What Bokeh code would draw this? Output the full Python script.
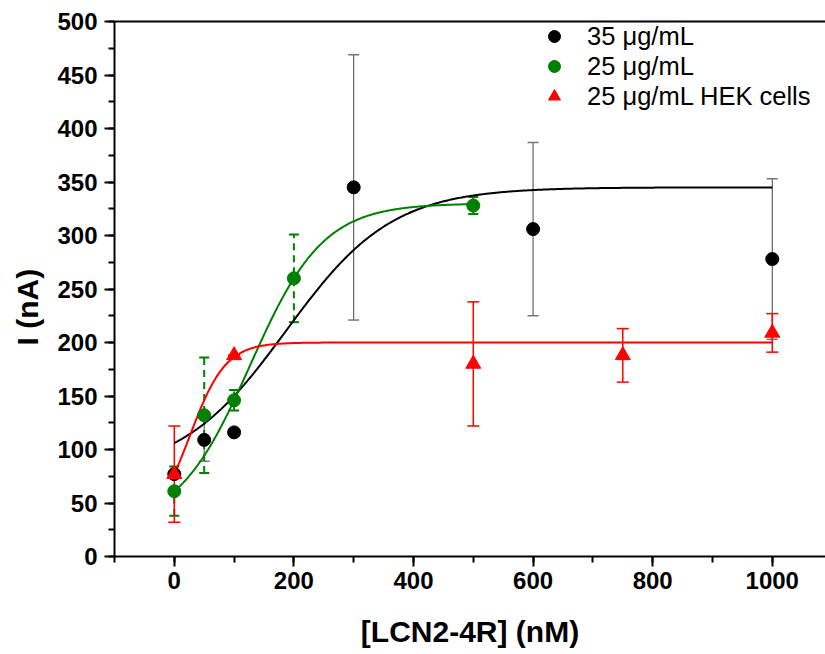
import numpy as np
from bokeh.plotting import figure
from bokeh.models import (ColumnDataSource, Whisker, TeeHead, Range1d, SingleIntervalTicker,
                          LinearAxis, FixedTicker, Legend, LegendItem, Title)
from bokeh.embed import file_html
from bokeh.resources import INLINE

# ---- data ----
# 35 µg/mL
conc_35 = [0, 50, 100, 300, 600, 1000]
i_35 = [77, 109, 116, 345, 306, 278]
err_35 = [0, 20, 0, 124, 81, 75]
# 25 µg/mL
conc_25 = [0, 50, 100, 200, 500]
i_25 = [61, 132, 146, 260, 328]
err_25 = [23, 54, 9.5, 41, 8]
# 25 µg/mL HEK cells
conc_hek = [0, 100, 500, 750, 1000]
i_hek = [77, 188, 180, 188, 209]
err_hek = [45, 0, 58, 25, 18]

series_labels = ["35 μg/mL", "25 μg/mL", "25 μg/mL HEK cells"]

# fitted-curve parameters (Boltzmann fits estimated from the reference curves)
fit_35 = dict(a1=77, a2=345, x0=187, dx=88.7, xmax=1000)
fit_25 = dict(a1=27.2, a2=330, x0=126.7, dx=61, xmax=500)
fit_hek = dict(a1=24.8, a2=200, x0=25.7, dx=30, xmax=1000)


def boltzmann(x, a1, a2, x0, dx):
    return a2 + (a1 - a2) / (1 + np.exp((x - x0) / dx))


FONT = "Liberation Sans"
GREEN = "#008000"
RED = "#FF0000"

p = figure(width=825, height=652, output_backend="svg", toolbar_location=None,
           x_range=Range1d(-100, 1089), y_range=Range1d(0, 500),
           min_border_left=114, min_border_right=0, min_border_top=21, min_border_bottom=96)
p.outline_line_color = None
p.xgrid.visible = False
p.ygrid.visible = False
p.background_fill_color = "white"
p.border_fill_color = "white"

for ax in (p.xaxis[0], p.yaxis[0]):
    ax.axis_line_width = 2
    ax.major_tick_line_width = 2
    ax.minor_tick_line_width = 2
    ax.major_tick_in = 0
    ax.minor_tick_in = 0
    ax.major_tick_out = 10
    ax.minor_tick_out = 6
    ax.major_label_text_font = FONT
    ax.major_label_text_font_style = "bold"
    ax.major_label_text_font_size = "24px"
    ax.major_label_text_color = "black"
    ax.axis_label_text_font = FONT
    ax.axis_label_text_font_style = "bold"
    ax.axis_label_text_font_size = "30px"
    ax.axis_label_text_color = "black"

p.xaxis[0].ticker = SingleIntervalTicker(interval=200, num_minor_ticks=2)
p.yaxis[0].ticker = SingleIntervalTicker(interval=50, num_minor_ticks=2)
p.xaxis[0].axis_label = "[LCN2-4R] (nM)"
p.xaxis[0].major_label_standoff = 5
p.xaxis[0].axis_label_standoff = 23
p.yaxis[0].major_label_standoff = 7

top_ax = LinearAxis(ticker=FixedTicker(ticks=[]), axis_line_width=2,
                    major_tick_out=0, minor_tick_out=0, major_tick_in=0, minor_tick_in=0)
p.add_layout(top_ax, "above")

# y axis title (placed like the reference, slightly below centre)
p.add_layout(Title(text="I (nA)", align="left", offset=211, vertical_align="top", standoff=18,
                   text_font=FONT, text_font_style="bold", text_font_size="30px",
                   text_color="black"), "left")

src_35 = ColumnDataSource(dict(x=conc_35, y=i_35,
                               lo=[v - e for v, e in zip(i_35, err_35)],
                               hi=[v + e for v, e in zip(i_35, err_35)]))
src_25 = ColumnDataSource(dict(x=conc_25, y=i_25,
                               lo=[v - e for v, e in zip(i_25, err_25)],
                               hi=[v + e for v, e in zip(i_25, err_25)]))
src_hek = ColumnDataSource(dict(x=conc_hek, y=i_hek,
                                lo=[v - e for v, e in zip(i_hek, err_hek)],
                                hi=[v + e for v, e in zip(i_hek, err_hek)]))

w35 = Whisker(source=src_35, base="x", lower="lo", upper="hi", line_color="#444444", line_width=1,
              upper_head=TeeHead(size=11, line_color="#777777", line_width=1.5),
              lower_head=TeeHead(size=11, line_color="#777777", line_width=1.5))
w25 = Whisker(source=src_25, base="x", lower="lo", upper="hi", line_color=GREEN, line_width=2,
              line_dash="7 5",
              upper_head=TeeHead(size=10, line_color=GREEN, line_width=2),
              lower_head=TeeHead(size=10, line_color=GREEN, line_width=2))
wh = Whisker(source=src_hek, base="x", lower="lo", upper="hi", line_color=RED, line_width=1.5,
             upper_head=TeeHead(size=12, line_color=RED, line_width=1.5),
             lower_head=TeeHead(size=12, line_color=RED, line_width=1.5))
for w in (w35, w25, wh):
    p.add_layout(w)

xc_35 = np.linspace(0, fit_35["xmax"], 500)
xc_25 = np.linspace(0, fit_25["xmax"], 300)
xc_hek = np.linspace(0, fit_hek["xmax"], 500)
p.line(xc_35, boltzmann(xc_35, fit_35["a1"], fit_35["a2"], fit_35["x0"], fit_35["dx"]),
       line_color="black", line_width=2)
p.line(xc_25, boltzmann(xc_25, fit_25["a1"], fit_25["a2"], fit_25["x0"], fit_25["dx"]),
       line_color=GREEN, line_width=2)
p.line(xc_hek, boltzmann(xc_hek, fit_hek["a1"], fit_hek["a2"], fit_hek["x0"], fit_hek["dx"]),
       line_color=RED, line_width=2)

r35 = p.scatter("x", "y", source=src_35, marker="circle", size=13, fill_color="black", line_color="black")
r25 = p.scatter("x", "y", source=src_25, marker="circle", size=13, fill_color=GREEN, line_color=GREEN)
rh = p.scatter("x", "y", source=src_hek, marker="triangle", size=15, fill_color=RED, line_color=RED)

legend = Legend(items=[LegendItem(label=series_labels[0], renderers=[r35]),
                       LegendItem(label=series_labels[1], renderers=[r25]),
                       LegendItem(label=series_labels[2], renderers=[rh])],
                location=(425, 445), border_line_color=None, background_fill_alpha=0,
                label_text_font=FONT, label_text_font_size="25.5px", label_text_color="black",
                glyph_width=30, glyph_height=30, label_height=25, label_standoff=18,
                spacing=-10, padding=0, margin=0)
p.add_layout(legend)

open("out.html", "w").write(file_html(p, INLINE))
